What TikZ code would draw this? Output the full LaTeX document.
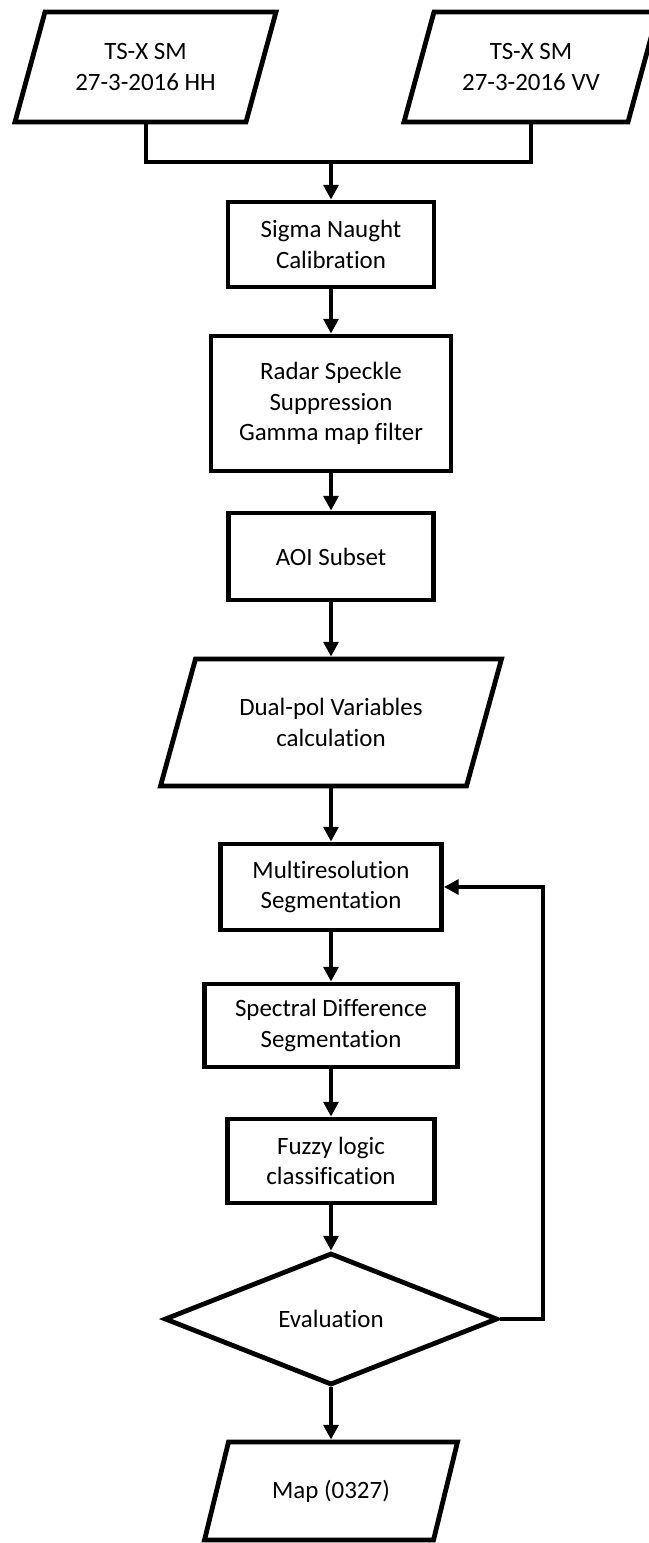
\documentclass[tikz,border=0pt]{standalone}
\usepackage{fontspec}
\setmainfont{Carlito}[Ligatures=NoCommon]
\usetikzlibrary{arrows.meta,shapes.geometric}
\tikzset{
  every node/.style={font=\fontsize{18.7pt}{22.7pt}\selectfont, align=center},
  procbox/.style={draw, line width=3.6pt, inner sep=0pt},
  iobox/.style={inner sep=0pt, outer sep=0pt},
  pgline/.style={line width=3.6pt, line join=miter},
  conn/.style={line width=3pt},
  arr/.style={conn, -{Triangle[width=11pt,length=11pt]}},
  decision/.style={diamond, aspect=2.5, draw, line width=3.6pt, inner sep=0pt},
}
\newcommand\pgram[2]{\draw[pgline] ([xshift=#2]#1.north west) -- (#1.north east) -- ([xshift=-#2]#1.south east) -- (#1.south west) -- cycle;}
\begin{document}
\begin{tikzpicture}[x=0.75pt, y=-0.75pt]
\useasboundingbox (0,0) rectangle (649,1543);
\clip (0,0) rectangle (649,1543);
% input parallelograms
\node[iobox, minimum width=195.75pt, minimum height=82.5pt] (hh) at (145.5,67) {TS-X SM\\27-3-2016 HH};
\pgram{hh}{22.5pt}
\node[iobox, minimum width=190.5pt, minimum height=82.5pt] (vv) at (531,67) {TS-X SM\\27-3-2016 VV};
\pgram{vv}{22.5pt}
% process boxes
\node[procbox, minimum width=154.5pt, minimum height=63.75pt] (sigma) at (331,244.5) {Sigma Naught\\Calibration};
\node[procbox, minimum width=180pt, minimum height=101.25pt] (radar) at (331,403.5) {Radar Speckle\\Suppression\\Gamma map filter};
\node[procbox, minimum width=153.75pt, minimum height=65.25pt] (aoi) at (331,556.5) {AOI Subset};
\node[iobox, minimum width=255.75pt, minimum height=95.25pt] (dual) at (331,722.5) {Dual-pol Variables\\calculation};
\pgram{dual}{26.25pt}
\node[procbox, minimum width=165.75pt, minimum height=64.5pt] (multi) at (331,887) {Multiresolution\\Segmentation};
\node[procbox, minimum width=189.75pt, minimum height=62.25pt] (spec) at (331,1025.5) {Spectral Difference\\Segmentation};
\node[procbox, minimum width=155.25pt, minimum height=63pt] (fuzzy) at (331,1161) {Fuzzy logic\\classification};
\node[decision, minimum width=249.75pt, minimum height=99pt] (eval) at (331,1319) {Evaluation};
\node[iobox, minimum width=189.75pt, minimum height=73.5pt] (map) at (331,1491) {Map (0327)};
\pgram{map}{18pt}
% connectors
\coordinate (j) at (331,162);
\coordinate (fb) at (543,887);
\draw[conn] (hh.south) |- (j) -| (vv.south);
\draw[arr] (j) -- (sigma.north);
\draw[arr] (sigma.south) -- (radar.north);
\draw[arr] (radar.south) -- (aoi.north);
\draw[arr, shorten >=1.8pt] (aoi.south) -- (dual.north);
\draw[arr, shorten <=1.8pt] (dual.south) -- (multi.north);
\draw[arr] (multi.south) -- (spec.north);
\draw[arr] (spec.south) -- (fuzzy.north);
\draw[arr] (fuzzy.south) -- (eval.north);
\draw[arr, shorten >=1.8pt] (eval.south) -- (map.north);
\draw[arr] (eval.east) -| (fb) -- (multi.east);
\end{tikzpicture}
\end{document}
